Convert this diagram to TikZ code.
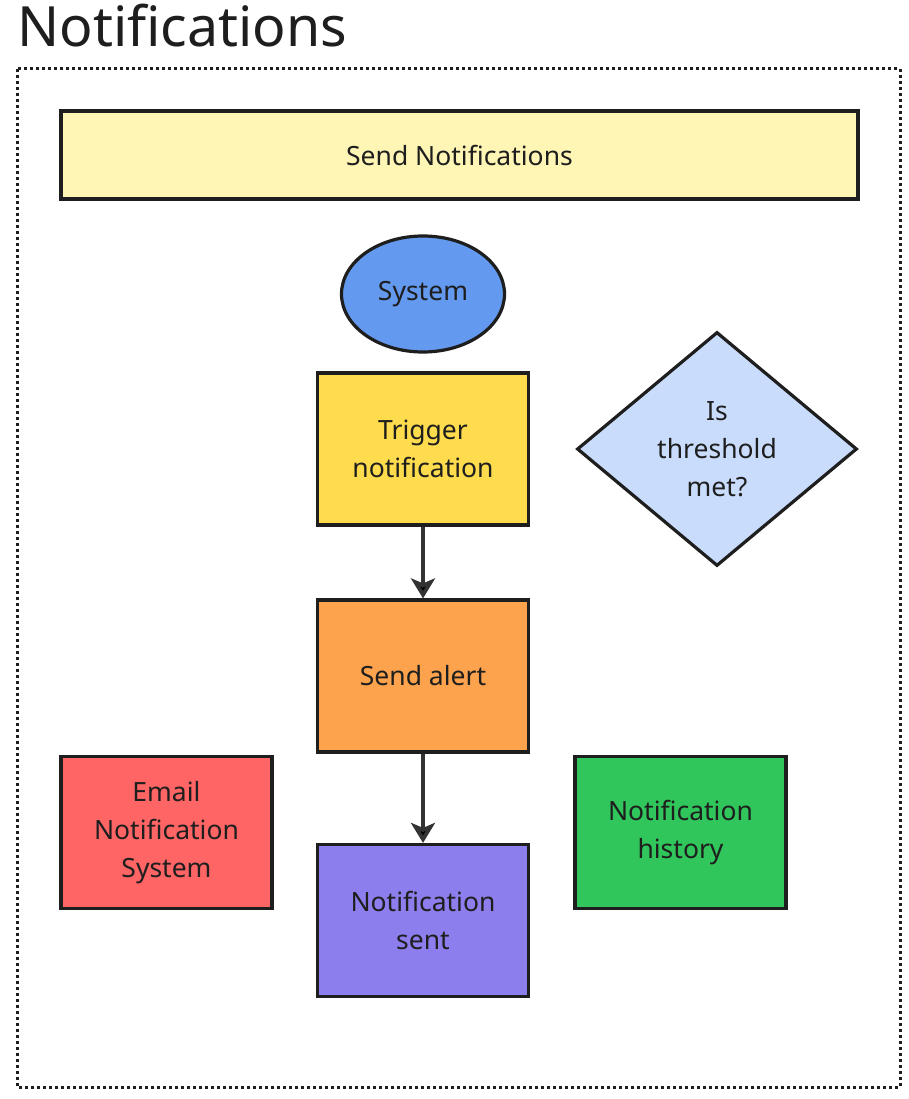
\documentclass[tikz,border=0pt]{standalone}
\usepackage{fontspec}
\setmainfont{Noto Sans}
\usetikzlibrary{arrows, arrows.meta, shapes, positioning}

\definecolor{bannercol}{HTML}{FFF5B4}
\definecolor{systemcol}{HTML}{6399EE}
\definecolor{triggercol}{HTML}{FFDC4E}
\definecolor{threshcol}{HTML}{C9DCFB}
\definecolor{alertcol}{HTML}{FDA24D}
\definecolor{emailcol}{HTML}{FF6565}
\definecolor{sentcol}{HTML}{8C7EEC}
\definecolor{historycol}{HTML}{30C65B}
\definecolor{edgecol}{HTML}{333333}
\definecolor{inkcol}{HTML}{1E1E1E}

\begin{document}
\begin{tikzpicture}[x=1pt,y=-1pt,->,>={Stealth[length=20pt,width=24pt,inset=5pt]},
                    semithick,font=\fontsize{26.5}{38}\selectfont]
  \tikzstyle{every node}=[text=inkcol,align=center]
  \tikzstyle{box}=[rectangle,draw=inkcol,line width=3.2pt,
                   minimum width=211pt,minimum height=152pt]

  \useasboundingbox (0,0) rectangle (909,1099);

  \node[anchor=base west,inner sep=0pt,font=\fontsize{55.5}{60}\selectfont]
        (title) at (17,47) {Notifications};
  \draw[-,inkcol,line width=3pt,dash pattern=on 3pt off 3pt]
        (17,69) rectangle (900,1087);

  \node[box,fill=bannercol,minimum width=797pt,minimum height=88pt]
        (banner) at (459.5,155) {Send Notifications};
  \node[ellipse,draw=inkcol,line width=3.2pt,fill=systemcol,
        minimum width=163pt,minimum height=116pt] (system) at (423,294) {System};
  \node[box,fill=triggercol] (trigger) at (423,449) {Trigger\\notification};
  \node[diamond,draw=inkcol,line width=3.2pt,fill=threshcol,
        minimum width=280pt,minimum height=234pt,inner sep=0pt]
        (thresh) at (717,449) {Is\\threshold\\met?};
  \node[box,fill=alertcol]   (alert)   at (423,676) {Send alert};
  \node[box,fill=emailcol]   (email)   at (166.5,832.5) {Email\\Notification\\System};
  \node[box,fill=sentcol]    (sent)    at (423,920.5) {Notification\\sent};
  \node[box,fill=historycol] (history) at (680.5,832.5) {Notification\\history};

  \path[draw=edgecol,line width=3.8pt]
        (trigger) edge (alert)
        (alert)   edge (sent);
\end{tikzpicture}
\end{document}
